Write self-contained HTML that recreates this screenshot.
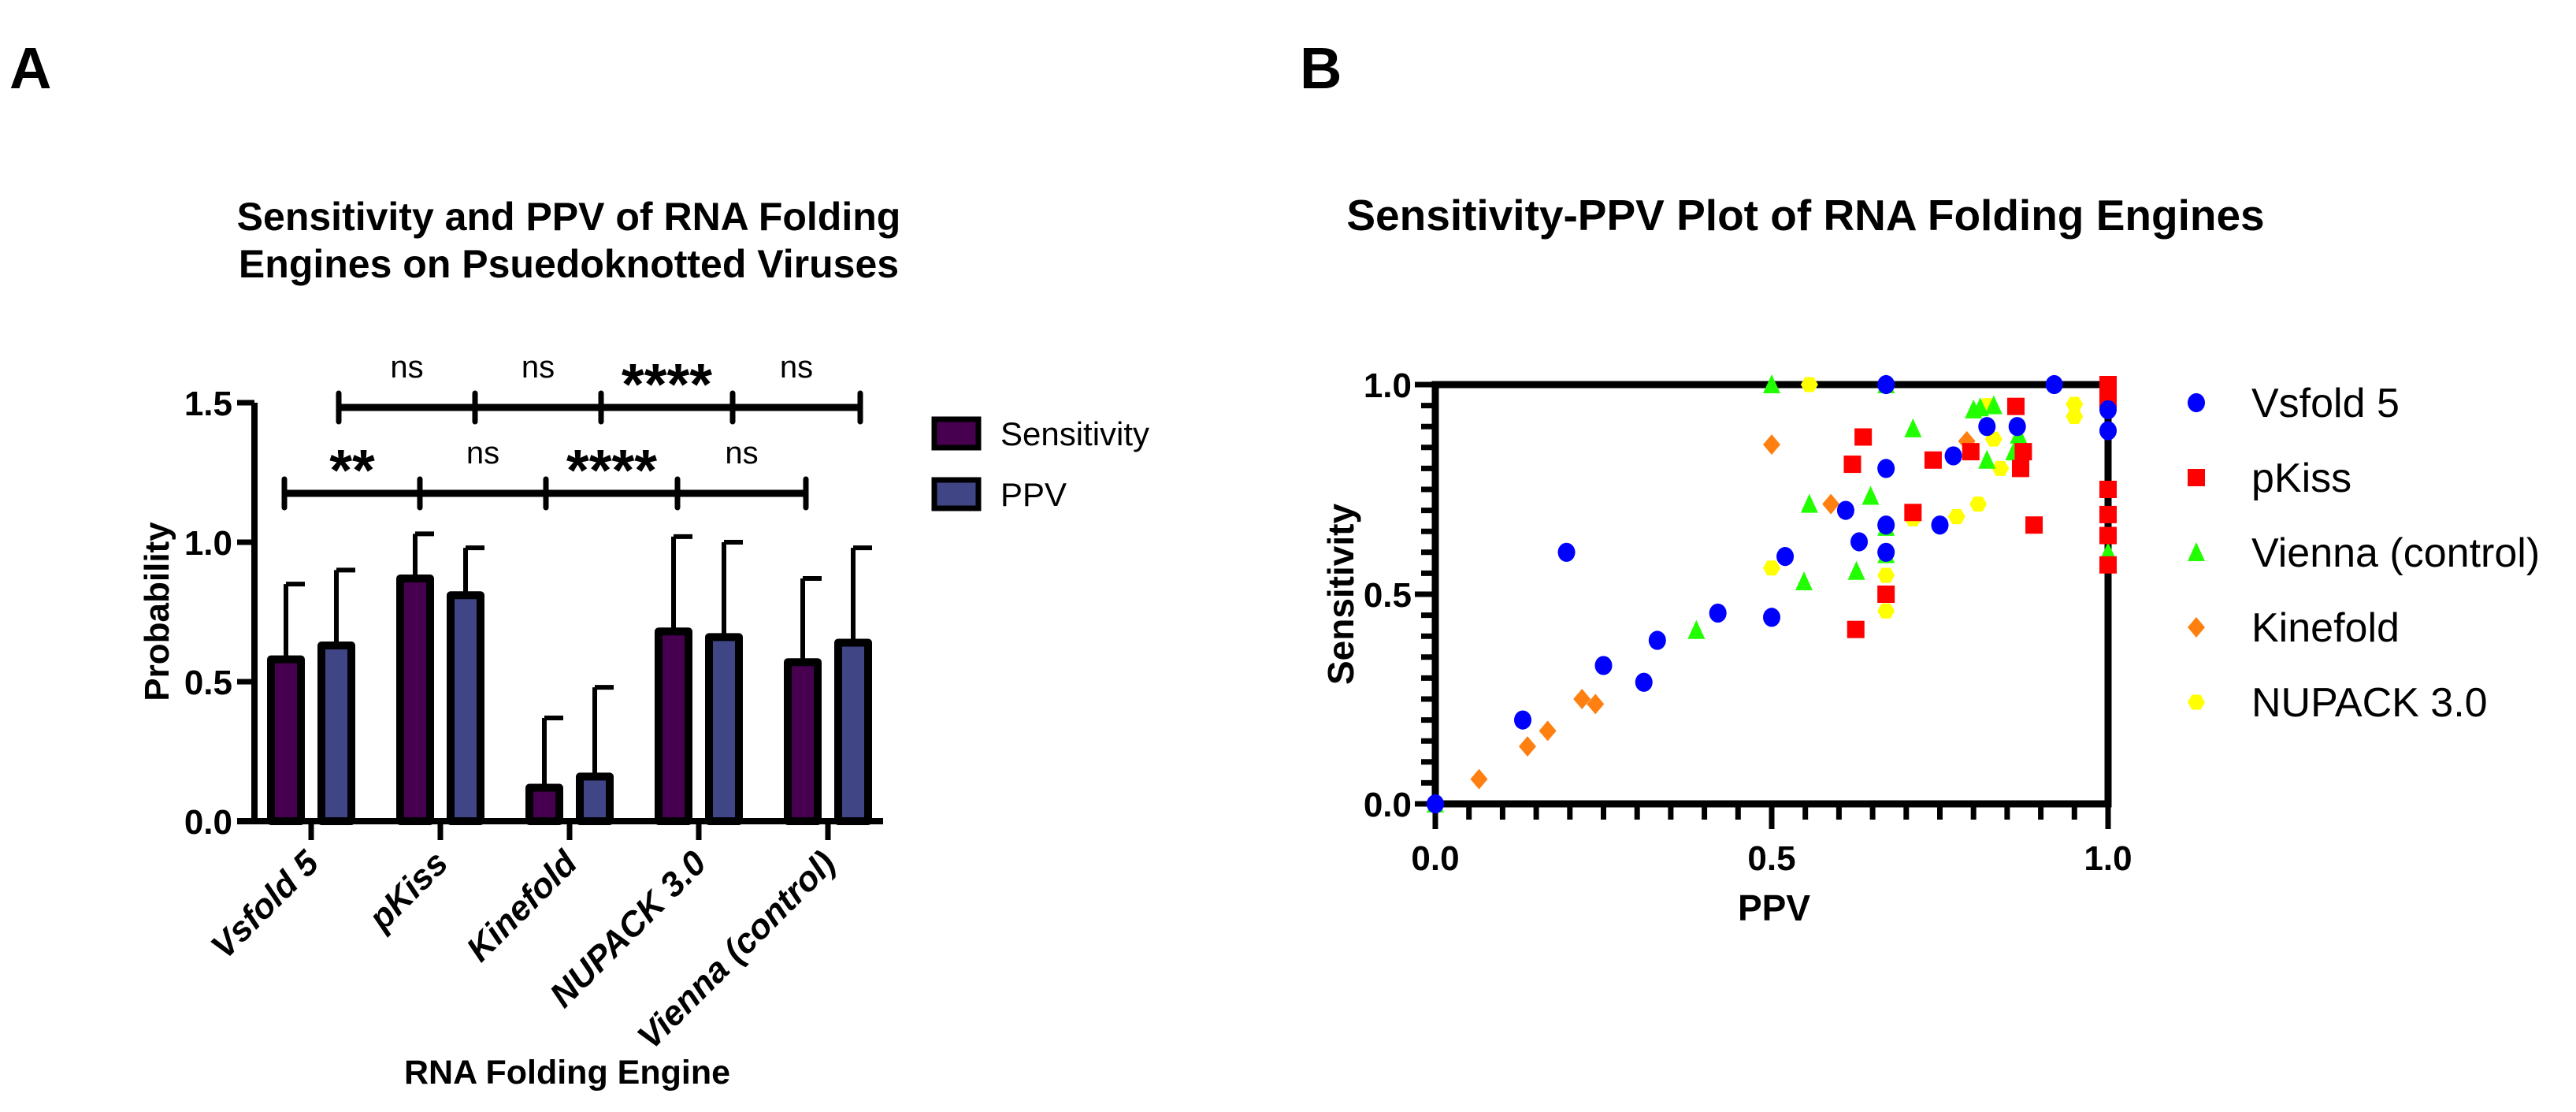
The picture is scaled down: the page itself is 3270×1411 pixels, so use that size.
<!DOCTYPE html>
<html><head><meta charset="utf-8"><style>
html,body{margin:0;padding:0;background:#fff;}
svg{display:block;font-family:"Liberation Sans",sans-serif;}
</style></head><body>
<svg id="fig" width="3270" height="1411" viewBox="0 0 3270 1411" xmlns="http://www.w3.org/2000/svg">
<text x="12" y="112" font-size="74" font-weight="bold">A</text>
<text x="1650" y="112" font-size="74" font-weight="bold">B</text>
<g id="barchart"></g>
<g id="scatter"></g>
</svg>
<script>
const categories = ["Vsfold 5","pKiss","Kinefold","NUPACK 3.0","Vienna (control)"];
const sensMean = [0.58,0.87,0.12,0.68,0.57];
const sensTop = [0.85,1.03,0.37,1.02,0.87];
const ppvMean = [0.63,0.81,0.16,0.66,0.64];
const ppvTop = [0.90,0.98,0.48,1.00,0.98];
const barTicks = [0.0,0.5,1.0,1.5];
const lowerSig = ["**","ns","****","ns"];
const upperSig = ["ns","ns","****","ns"];

const seriesNames = ["Vsfold 5","pKiss","Vienna (control)","Kinefold","NUPACK 3.0"];
const vsfoldX = [0,0.195,0.13,0.25,0.31,0.33,0.42,0.50,0.52,0.61,0.63,0.67,0.67,0.67,0.67,0.75,0.77,0.82,0.865,0.92,1,1];
const vsfoldY = [0,0.60,0.20,0.33,0.29,0.39,0.455,0.445,0.59,0.70,0.625,1.0,0.80,0.665,0.60,0.665,0.83,0.90,0.90,1.0,0.94,0.89];
const pkissX = [1,1,1,1,1,1,0.863,0.636,0.62,0.74,0.796,0.874,0.87,0.71,0.89,0.67,0.625];
const pkissY = [1.0,0.965,0.75,0.69,0.64,0.57,0.948,0.875,0.81,0.82,0.84,0.84,0.80,0.695,0.665,0.50,0.416];
const viennaX = [0.5,0.67,0.71,0.80,0.81,0.83,0.867,0.86,0.82,0.647,0.556,0.626,0.548,0.67,0.67,0.388,0,1];
const viennaY = [1.0,1.0,0.895,0.94,0.945,0.95,0.88,0.84,0.82,0.734,0.715,0.555,0.53,0.66,0.595,0.414,0,0.6];
const kinefoldX = [0.5,0.588,0.79,0.218,0.238,0.167,0.137,0.065];
const kinefoldY = [0.857,0.715,0.865,0.25,0.238,0.174,0.137,0.059];
const nupackX = [0.556,0.82,0.95,0.95,0.83,0.84,0.807,0.775,0.71,0.5,0.67,0.67];
const nupackY = [1.0,0.95,0.953,0.924,0.87,0.80,0.715,0.685,0.68,0.5625,0.545,0.46];
const scatterTicks = [0.0,0.5,1.0];

const NS="http://www.w3.org/2000/svg";
function mk(parent,tag,attrs,text){const e=document.createElementNS(NS,tag);for(const k in attrs)e.setAttribute(k,attrs[k]);if(text!==undefined)e.textContent=text;parent.appendChild(e);return e;}

// ---- Bar chart ----
const B=document.getElementById('barchart');
const bx0=323, bxEnd=1121, by0=1042, byTop=511;
const yB=v=>by0-(v/1.5)*(by0-byTop);
const catX=i=>395+i*164;
let t;
t=mk(B,'text',{x:722,y:292,'font-size':50,'font-weight':'bold','text-anchor':'middle'},'Sensitivity and PPV of RNA Folding');

t=mk(B,'text',{x:722,y:352,'font-size':50,'font-weight':'bold','text-anchor':'middle'},'Engines on Psuedoknotted Viruses');

categories.forEach((c,i)=>{
  const cx=catX(i);
  [[sensMean,sensTop,-32,'#470050','sensitivity'],[ppvMean,ppvTop,32,'#3f4585','ppv']].forEach(([m,tp,off,col,nm])=>{
    const x=cx+off;
    const eb=mk(B,'line',{x1:x,x2:x,y1:yB(m[i]),y2:yB(tp[i]),stroke:'#000','stroke-width':6});
    
    const cap=mk(B,'line',{x1:x,x2:x+24,y1:yB(tp[i]),y2:yB(tp[i]),stroke:'#000','stroke-width':6});
    
    const r=mk(B,'rect',{x:x-19,y:yB(m[i]),width:38,height:by0-yB(m[i]),fill:col,stroke:'#000','stroke-width':10,'stroke-linejoin':'round'});
    
  });
  const tk=mk(B,'line',{x1:cx,x2:cx,y1:by0,y2:by0+24,stroke:'#000','stroke-width':7});
  
  const lb=mk(B,'text',{x:0,y:0,'font-size':44,'font-weight':'bold','font-style':'italic','text-anchor':'end',transform:`translate(${cx+12},${by0+56}) rotate(-45)`},c);
  
});
let ax=mk(B,'line',{x1:bx0,x2:bx0,y1:by0+4,y2:byTop,stroke:'#000','stroke-width':8});

ax=mk(B,'line',{x1:bx0-22,x2:bxEnd,y1:by0,y2:by0,stroke:'#000','stroke-width':8});

barTicks.forEach(v=>{
  const l=mk(B,'line',{x1:bx0-22,x2:bx0,y1:yB(v),y2:yB(v),stroke:'#000','stroke-width':7});
  
  const tx=mk(B,'text',{x:bx0-28,y:yB(v)+16,'font-size':44,'font-weight':'bold','text-anchor':'end'},v.toFixed(1));
  
});
t=mk(B,'text',{x:0,y:0,'font-size':44,'font-weight':'bold','text-anchor':'middle',transform:'translate(214,776) rotate(-90)'},'Probability');

t=mk(B,'text',{x:720,y:1375,'font-size':43,'font-weight':'bold','text-anchor':'middle'},'RNA Folding Engine');

function bracket(xs,y,labels,name){
  const ln=mk(B,'line',{x1:xs[0],x2:xs[xs.length-1],y1:y,y2:y,stroke:'#000','stroke-width':9});
  
  xs.forEach(x=>{const k=mk(B,'line',{x1:x,x2:x,y1:y-18,y2:y+18,stroke:'#000','stroke-width':7,'stroke-linecap':'round'});
    });
  labels.forEach((s,i)=>{const star=s.includes('*');
    const tx=mk(B,'text',{x:(xs[i]+xs[i+1])/2,y:star?y-4:y-38,'font-size':star?74:40,'font-weight':star?'bold':'normal','text-anchor':'middle'},s);
    });
}
bracket([361,533,693,860,1023],626,lowerSig,'lower-comparison-bracket');
bracket([430,603,763,930,1092],517,upperSig,'upper-comparison-bracket');
[['Sensitivity','#470050',550],['PPV','#3f4585',627]].forEach(([n,c,y])=>{
  const r=mk(B,'rect',{x:1186,y:y-18,width:56,height:36,fill:c,stroke:'#000','stroke-width':7});
  
  const tx=mk(B,'text',{x:1270,y:y+15,'font-size':42},n);
  
});

// ---- Scatter ----
const S=document.getElementById('scatter');
const sx0=1822, sx1=2676, sy0=1020, sy1=488;
const xS=v=>sx0+v*(sx1-sx0), yS=v=>sy0-v*(sy0-sy1);
t=mk(S,'text',{x:2292,y:292,'font-size':55,'font-weight':'bold','text-anchor':'middle'},'Sensitivity-PPV Plot of RNA Folding Engines');

for(let k=0;k<=20;k++){
  const v=k/20, major=(k%10===0);
  const a=mk(S,'line',{x1:sx0-(major?26:18),x2:sx0,y1:yS(v),y2:yS(v),stroke:'#000','stroke-width':7});
  
  const b=mk(S,'line',{x1:xS(v),x2:xS(v),y1:sy0,y2:sy0+(major?32:20),stroke:'#000','stroke-width':7});
  
}
scatterTicks.forEach(v=>{
  const a=mk(S,'text',{x:sx0-30,y:yS(v)+16,'font-size':44,'font-weight':'bold','text-anchor':'end'},v.toFixed(1));
  
  const b=mk(S,'text',{x:xS(v),y:sy0+84,'font-size':44,'font-weight':'bold','text-anchor':'middle'},v.toFixed(1));
  
});
const box=mk(S,'rect',{x:sx0,y:sy1,width:sx1-sx0,height:sy0-sy1,fill:'none',stroke:'#000','stroke-width':9});

t=mk(S,'text',{x:0,y:0,'font-size':46,'font-weight':'bold','text-anchor':'middle',transform:'translate(1718,754) rotate(-90)'},'Sensitivity');

t=mk(S,'text',{x:2252,y:1168,'font-size':46,'font-weight':'bold','text-anchor':'middle'},'PPV');

function marker(g,shape,cx,cy,color){
  const r=11;let e;
  if(shape==='circle')e=mk(g,'ellipse',{cx,cy,rx:r,ry:r*1.1,fill:color});
  else if(shape==='square')e=mk(g,'rect',{x:cx-r,y:cy-r,width:2*r,height:2*r,fill:color});
  else if(shape==='triangle')e=mk(g,'polygon',{points:`${cx},${cy-r-2} ${cx+r},${cy+r} ${cx-r},${cy+r}`,fill:color});
  else if(shape==='diamond')e=mk(g,'polygon',{points:`${cx},${cy-r-2} ${cx+r},${cy} ${cx},${cy+r+2} ${cx-r},${cy}`,fill:color});
  else {const pts=[];for(let k=0;k<6;k++){const a=Math.PI/3*k;pts.push((cx+r*Math.cos(a))+','+(cy+r*Math.sin(a)));}e=mk(g,'polygon',{points:pts.join(' '),fill:color});}
  return e;
}
const series=[[vsfoldX,vsfoldY,'circle','#0000ff'],[pkissX,pkissY,'square','#ff0000'],[viennaX,viennaY,'triangle','#22ff00'],[kinefoldX,kinefoldY,'diamond','#ff8010'],[nupackX,nupackY,'hexagon','#ffff00']];
const drawOrder=[4,3,2,1,0];
drawOrder.forEach(si=>{
  const [xs,ys,shape,col]=series[si];
  const g=mk(S,'g',{});
  
  
  xs.forEach((x,i)=>{const p=marker(g,shape,xS(x),yS(ys[i]),col);
    
    });
});
seriesNames.forEach((n,i)=>{
  const y=511+i*95;
  const m=marker(S,series[i][2],2788,y,series[i][3]);
  
  
  const tx=mk(S,'text',{x:2858,y:y+18,'font-size':52},n);
  
  
});
</script>
</body></html>
